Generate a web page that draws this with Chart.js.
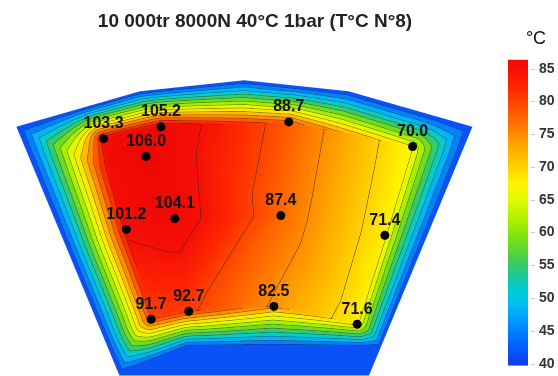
<!DOCTYPE html>
<html>
<head>
<meta charset="utf-8">
<script src="https://cdn.jsdelivr.net/npm/chart.js@4.4.1/dist/chart.umd.min.js"></script>
<style>
  html, body { margin: 0; padding: 0; background: #fff; }
</style>
</head>
<body>
<canvas id="carte" width="558" height="376"></canvas>
<script>
// CAPTEURS (position sur le patin en mm, température mesurée)
const capteurX = [-35.5, -21, -24.75, 11.25, 42.5, -29.75, -17.5, 9.25, 35.5, -23.5, -14, 7.5, 28.5];
const capteurY = [59, 62, 54.5, 63.25, 57, 36, 38.75, 39.5, 34.5, 13.25, 15.25, 16.5, 12];
const temperatures = [103.3, 105.2, 106.0, 88.7, 70.0, 101.2, 104.1, 87.4, 71.4, 91.7, 92.7, 82.5, 71.6];

// CONTOUR DU PATIN (mm)
const patinX = [-57.5, -26.3, 0, 26.3, 57.6, 31.5, -31.5];
const patinY = [62, 71, 73.8, 71, 62, -1, -1];

// LIMITE OU LA TEMPERATURE RETOMBE (mm)
const bordX = [-57.5, -26.3, 0, 26.3, 57.6, 34.5, -14.25, -31.5];
const bordY = [62, 71, 73.8, 71, 62, 6, 6, -1];
const tempBord = 25;

// MAILLAGE ENTRE CAPTEURS
const enveloppe = [0, 1, 3, 4, 8, 12, 11, 10, 9, 5];
const triangles = [[0,1,2],[0,2,5],[2,6,5],[1,6,2],[1,7,6],[1,3,7],[3,4,7],[4,8,7],[8,12,7],[12,11,7],[11,10,7],[10,6,7],[10,9,6],[9,5,6]];

// ECHELLE DE COULEUR
const echelleTicks = [40, 45, 50, 55, 60, 65, 70, 75, 80, 85];
const tempMin = 25, tempMax = 100;   // températures mises sur 40 et 85
const pasContour = 5;                // lignes à l'intérieur (unités de la barre)
const pasBord = 10 / 3;              // bandes du bord (5 °C)
const titre = "10 000tr 8000N 40°C 1bar (T°C N°8)";

const palette = [
  [38, [25, 45, 230]],
  [40, [20, 60, 240]],
  [43, [0, 100, 255]],
  [46, [0, 145, 255]],
  [49, [0, 190, 245]],
  [51, [0, 205, 215]],
  [53, [20, 200, 160]],
  [56, [70, 205, 80]],
  [59, [120, 225, 20]],
  [62, [175, 240, 0]],
  [65, [225, 250, 0]],
  [67.5, [255, 245, 0]],
  [70, [255, 210, 0]],
  [73, [255, 170, 0]],
  [76, [255, 125, 0]],
  [79, [255, 80, 0]],
  [82, [255, 40, 0]],
  [85, [245, 15, 5]],
  [90, [235, 5, 5]]
];

Chart.defaults.font.family = "'Liberation Sans', Arial, Helvetica, sans-serif";

function couleur(c) {
  if (c <= palette[0][0]) return palette[0][1];
  for (let k = 1; k < palette.length; k++) {
    if (c <= palette[k][0]) {
      const [v0, c0] = palette[k - 1], [v1, c1] = palette[k];
      const f = (c - v0) / (v1 - v0);
      return c0.map((u, n) => u + f * (c1[n] - u));
    }
  }
  return palette[palette.length - 1][1];
}

// temperature -> valeur de la barre
function versBarre(t) {
  return 40 + (t - tempMin) * 45 / (tempMax - tempMin);
}

function dansPolygone(x, y, xs, ys) {
  let dedans = false;
  for (let i = 0, j = xs.length - 1; i < xs.length; j = i++) {
    if ((ys[i] > y) !== (ys[j] > y) &&
        x < (xs[j] - xs[i]) * (y - ys[i]) / (ys[j] - ys[i]) + xs[i]) dedans = !dedans;
  }
  return dedans;
}

function projSegment(x, y, ax, ay, bx, by) {
  const dx = bx - ax, dy = by - ay;
  let t = ((x - ax) * dx + (y - ay) * dy) / (dx * dx + dy * dy);
  t = Math.max(0, Math.min(1, t));
  return [Math.hypot(x - ax - t * dx, y - ay - t * dy), t];
}

const envX = enveloppe.map(i => capteurX[i]);
const envY = enveloppe.map(i => capteurY[i]);

// CHAMP DE TEMPERATURE
function champ(x, y) {
  if (!dansPolygone(x, y, bordX, bordY)) return { t: tempBord + 0.5, dedans: false };

  if (dansPolygone(x, y, envX, envY)) {
    for (const [a, b, c] of triangles) {
      const x1 = capteurX[a], y1 = capteurY[a];
      const x2 = capteurX[b], y2 = capteurY[b];
      const x3 = capteurX[c], y3 = capteurY[c];
      const det = (y2 - y3) * (x1 - x3) + (x3 - x2) * (y1 - y3);
      const l1 = ((y2 - y3) * (x - x3) + (x3 - x2) * (y - y3)) / det;
      const l2 = ((y3 - y1) * (x - x3) + (x1 - x3) * (y - y3)) / det;
      const l3 = 1 - l1 - l2;
      if (l1 >= -1e-6 && l2 >= -1e-6 && l3 >= -1e-6) {
        return { t: l1 * temperatures[a] + l2 * temperatures[b] + l3 * temperatures[c], dedans: true };
      }
    }
  }

  let dIn = Infinity, sw = 0, sv = 0;
  for (let k = 0; k < enveloppe.length; k++) {
    const i = enveloppe[k], j = enveloppe[(k + 1) % enveloppe.length];
    const [d, t] = projSegment(x, y, capteurX[i], capteurY[i], capteurX[j], capteurY[j]);
    const v = temperatures[i] + t * (temperatures[j] - temperatures[i]);
    const w = 1 / Math.pow(d * d + 0.05, 2);
    sw += w; sv += w * v;
    dIn = Math.min(dIn, d);
  }
  let dOut = Infinity;
  for (let i = 0, j = bordX.length - 1; i < bordX.length; j = i++) {
    dOut = Math.min(dOut, projSegment(x, y, bordX[j], bordY[j], bordX[i], bordY[i])[0]);
  }
  const tq = sv / sw;
  return { t: tempBord + 0.5 + (tq - tempBord - 0.5) * dOut / (dOut + dIn), dedans: false };
}

// IMAGE DU CHAMP
function construireImage(chart) {
  const sx = chart.scales.x, sy = chart.scales.y;
  const pxs = patinX.map(v => sx.getPixelForValue(v));
  const pys = patinY.map(v => sy.getPixelForValue(v));
  const x0 = Math.floor(Math.min(...pxs)) - 2, x1 = Math.ceil(Math.max(...pxs)) + 2;
  const y0 = Math.floor(Math.min(...pys)) - 2, y1 = Math.min(chart.height, Math.ceil(Math.max(...pys)) + 2);
  const w = x1 - x0, h = y1 - y0;

  const val = new Float32Array(w * h);
  const dedans = new Uint8Array(w * h);
  for (let j = 0; j < h; j++) {
    const my = sy.getValueForPixel(y0 + j + 0.5);
    for (let i = 0; i < w; i++) {
      const mx = sx.getValueForPixel(x0 + i + 0.5);
      const r = champ(mx, my);
      val[j * w + i] = versBarre(r.t);
      dedans[j * w + i] = r.dedans ? 1 : 0;
    }
  }

  const can = document.createElement('canvas');
  can.width = w; can.height = h;
  const c2 = can.getContext('2d');
  const img = c2.createImageData(w, h);
  for (let j = 0; j < h; j++) {
    for (let i = 0; i < w; i++) {
      const k = j * w + i;
      const c = val[k];
      const pas = dedans[k] ? pasContour : pasBord;
      let coul;
      if (dedans[k] || c >= 85) coul = couleur(c);
      else coul = couleur(Math.floor(c / pas) * pas + pas / 2);

      // lignes de niveau
      const gx = (val[j * w + Math.min(w - 1, i + 1)] - val[j * w + Math.max(0, i - 1)]) / 2;
      const gy = (val[Math.min(h - 1, j + 1) * w + i] - val[Math.max(0, j - 1) * w + i]) / 2;
      const g = Math.hypot(gx, gy);
      const niveau = Math.round(c / pas) * pas;
      let a = 0;
      if (niveau >= 42 && niveau <= 86 && g > 1e-6) {
        const d = Math.abs(c - niveau) / g;
        a = Math.max(0, Math.min(1, 1 - d / 0.75)) * (dedans[k] ? 0.6 : 0.45);
      }
      img.data[k * 4] = coul[0] * (1 - a) + 50 * a;
      img.data[k * 4 + 1] = coul[1] * (1 - a) + 35 * a;
      img.data[k * 4 + 2] = coul[2] * (1 - a) + 30 * a;
      img.data[k * 4 + 3] = 255;
    }
  }
  c2.putImageData(img, 0, 0);
  return { canvas: can, x: x0, y: y0 };
}

const cartePlugin = {
  id: 'carte',
  beforeDatasetsDraw(chart) {
    const { ctx, scales: { x: sx, y: sy, cb } } = chart;
    if (!chart.$image) chart.$image = construireImage(chart);

    ctx.save();
    ctx.beginPath();
    patinX.forEach((v, i) => {
      const px = sx.getPixelForValue(v), py = sy.getPixelForValue(patinY[i]);
      if (i) ctx.lineTo(px, py); else ctx.moveTo(px, py);
    });
    ctx.closePath();
    ctx.clip();
    ctx.drawImage(chart.$image.canvas, chart.$image.x, chart.$image.y);
    ctx.restore();

    // barre de couleur
    const haut = cb.getPixelForValue(86.35), bas = cb.getPixelForValue(39.7);
    const grad = ctx.createLinearGradient(0, bas, 0, haut);
    palette.forEach(([v, c]) => {
      const f = (v - 39.7) / (86.35 - 39.7);
      if (f >= 0 && f <= 1) grad.addColorStop(f, `rgb(${c[0]},${c[1]},${c[2]})`);
    });
    grad.addColorStop(0, 'rgb(20,58,240)');
    grad.addColorStop(1, 'rgb(240,12,8)');
    ctx.save();
    ctx.fillStyle = grad;
    ctx.fillRect(cb.left + 33, haut, 20, bas - haut);
    ctx.strokeStyle = '#c8c8c8';
    ctx.lineWidth = 1;
    ctx.fillStyle = '#333';
    ctx.font = "bold 14px 'Liberation Sans', Arial, sans-serif";
    ctx.textAlign = 'left';
    ctx.textBaseline = 'middle';
    echelleTicks.forEach(v => {
      const py = Math.round(cb.getPixelForValue(v)) + 0.5;
      ctx.beginPath();
      ctx.moveTo(cb.left + 56, py);
      ctx.lineTo(cb.left + 60, py);
      ctx.stroke();
      ctx.fillText(String(v), cb.left + 64, py);
    });
    ctx.fillStyle = '#111';
    ctx.font = "18px 'Liberation Sans', Arial, sans-serif";
    ctx.textAlign = 'center';
    ctx.fillText('°C', cb.left + 61, 39);
    ctx.restore();
  },
  afterDatasetsDraw(chart) {
    const { ctx, scales: { x: sx, y: sy } } = chart;
    ctx.save();
    ctx.fillStyle = '#111';
    ctx.font = "bold 16px 'Liberation Sans', Arial, sans-serif";
    ctx.textAlign = 'center';
    ctx.textBaseline = 'middle';
    temperatures.forEach((t, i) => {
      ctx.fillText(t.toFixed(1), sx.getPixelForValue(capteurX[i]), sy.getPixelForValue(capteurY[i]) - 15);
    });
    ctx.restore();
  }
};

new Chart(document.getElementById('carte'), {
  type: 'scatter',
  data: {
    datasets: [{
      data: capteurX.map((x, i) => ({ x: x, y: capteurY[i] })),
      backgroundColor: '#000',
      borderColor: '#000',
      borderWidth: 0,
      pointRadius: 4.5,
      pointHoverRadius: 4.5
    }]
  },
  options: {
    responsive: false,
    animation: false,
    events: [],
    layout: { padding: { left: 0, right: 48, top: 0, bottom: 0 } },
    plugins: {
      legend: { display: false },
      tooltip: { enabled: false },
      title: {
        display: true,
        text: titre,
        color: '#222',
        font: { size: 19, weight: 'bold', lineHeight: 1.2 },
        padding: { top: 10.4, bottom: 6.8 }
      }
    },
    scales: {
      x: { type: 'linear', display: false, min: -60.5, max: 58.25 },
      y: { type: 'linear', display: false, min: 0, max: 84 },
      cb: {
        type: 'linear',
        axis: 'y',
        position: 'right',
        min: 38.796,
        max: 89.365,
        afterFit(s) { s.width = 35; s.paddingTop = 0; s.paddingBottom = 0; },
        afterBuildTicks(s) { s.ticks = echelleTicks.map(v => ({ value: v })); },
        grid: { display: false, drawTicks: false },
        border: { display: false },
        ticks: { display: false }
      }
    }
  },
  plugins: [cartePlugin]
});
</script>
</body>
</html>
